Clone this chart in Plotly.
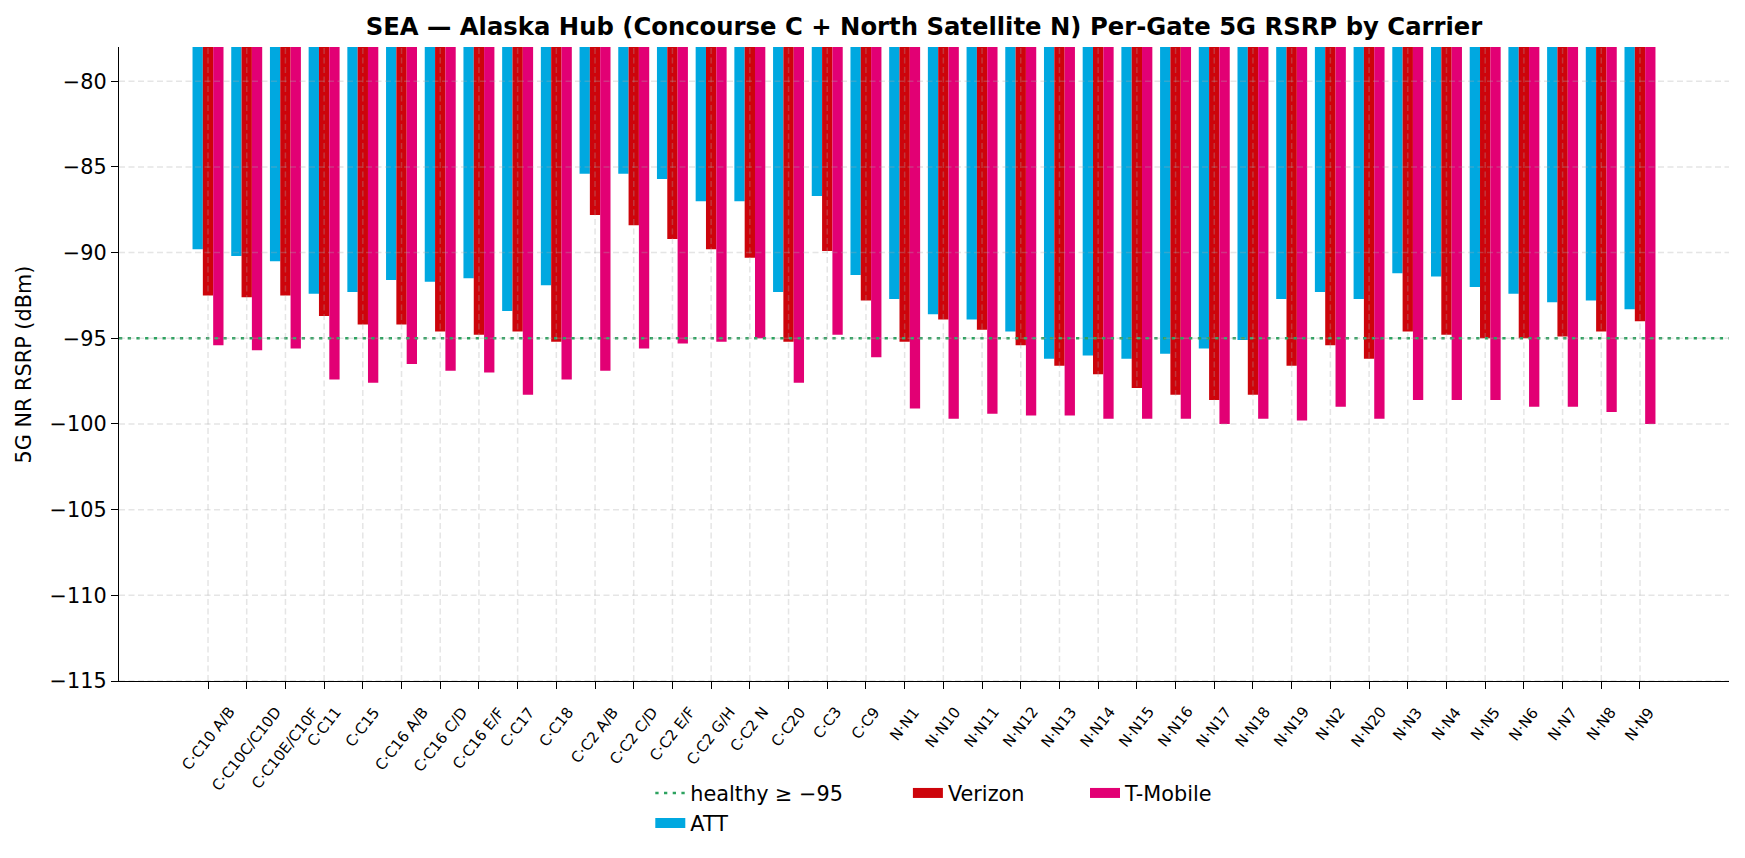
import plotly.graph_objects as go

FONT = "DejaVu Sans"

gates = ["C·C10 A/B", "C·C10C/C10D", "C·C10E/C10F", "C·C11", "C·C15", "C·C16 A/B",
         "C·C16 C/D", "C·C16 E/F", "C·C17", "C·C18", "C·C2 A/B", "C·C2 C/D",
         "C·C2 E/F", "C·C2 G/H", "C·C2 N", "C·C20", "C·C3", "C·C9",
         "N·N1", "N·N10", "N·N11", "N·N12", "N·N13", "N·N14", "N·N15", "N·N16",
         "N·N17", "N·N18", "N·N19", "N·N2", "N·N20", "N·N3", "N·N4", "N·N5",
         "N·N6", "N·N7", "N·N8", "N·N9"]

att = [-89.8, -90.2, -90.5, -92.4, -92.3, -91.6, -91.7, -91.5, -93.4, -91.9,
       -85.4, -85.4, -85.7, -87.0, -87.0, -92.3, -86.7, -91.3,
       -92.7, -93.6, -93.9, -94.6, -96.2, -96.0, -96.2, -95.9, -95.6, -95.1,
       -92.7, -92.3, -92.7, -91.2, -91.4, -92.0, -92.4, -92.9, -92.8, -93.3]

verizon = [-92.5, -92.6, -92.5, -93.7, -94.2, -94.2, -94.6, -94.8, -94.6, -95.2,
           -87.8, -88.4, -89.2, -89.8, -90.3, -95.2, -89.9, -92.8,
           -95.2, -93.9, -94.5, -95.4, -96.6, -97.1, -97.9, -98.3, -98.6, -98.3,
           -96.6, -95.4, -96.2, -94.6, -94.8, -95.0, -95.0, -94.9, -94.6, -94.0]

tmobile = [-95.4, -95.7, -95.6, -97.4, -97.6, -96.5, -96.9, -97.0, -98.3, -97.4,
           -96.9, -95.6, -95.3, -95.2, -95.0, -97.6, -94.8, -96.1,
           -99.1, -99.7, -99.4, -99.5, -99.5, -99.7, -99.7, -99.7, -100.0, -99.7,
           -99.8, -99.0, -99.7, -98.6, -98.6, -98.6, -99.0, -99.0, -99.3, -100.0]

carriers = ["ATT", "Verizon", "T-Mobile"]
colors = {"ATT": "#00a8e0", "Verizon": "#cd040b", "T-Mobile": "#e20074"}
series = {"ATT": att, "Verizon": verizon, "T-Mobile": tmobile}
legends = {"ATT": "legend", "Verizon": "legend2", "T-Mobile": "legend3"}

HEALTHY = -95
Y_TICKS = list(range(-115, -79, 5))
GREEN = "#2ca25f"
DOTS = "3.3px,5.4px"

idx = list(range(len(gates)))

fig = go.Figure()

for c in carriers:
    fig.add_trace(go.Bar(x=idx, y=series[c], name=c, marker_color=colors[c],
                         marker_line_width=0, showlegend=False))

# legend entries (thick lines look like matplotlib's wide patches)
fig.add_trace(go.Scatter(x=[None], y=[None], mode="lines", name="healthy ≥ −95",
                         line=dict(color=GREEN, width=2.4, dash=DOTS),
                         legend="legend", legendgroup="a", legendrank=1))
for i, c in enumerate(carriers):
    fig.add_trace(go.Scatter(x=[None], y=[None], mode="lines", name=c,
                             line=dict(color=colors[c], width=15),
                             legend=legends[c], legendgroup=c, legendrank=2 + i))

fig.add_hline(y=HEALTHY, line=dict(color=GREEN, width=2.4, dash=DOTS), layer="above")

# grid drawn over the bars like the original
grid = dict(color="rgba(170,170,170,0.3)", width=1.5, dash="6px,3.5px")
for i in idx:
    fig.add_shape(type="line", xref="x", yref="paper", x0=i, x1=i, y0=0, y1=1,
                  line=grid, layer="above")
for t in Y_TICKS:
    fig.add_shape(type="line", xref="paper", yref="y", x0=0, x1=1, y0=t, y1=t,
                  line=grid, layer="above")

# rotated gate labels centred under each tick
for i, g in zip(idx, gates):
    fig.add_annotation(x=i, y=0, xref="x", yref="paper", text=g, showarrow=False,
                       textangle=-52, xanchor="center", yanchor="top", yshift=-20,
                       font=dict(size=15))

fig.add_annotation(x=-0.0587, y=0.5, xref="paper", yref="paper", text="5G NR RSRP (dBm)",
                   textangle=-90, showarrow=False, xanchor="center", yanchor="middle",
                   font=dict(size=20.8))

leg = dict(yanchor="top", xanchor="left", orientation="v", font=dict(size=20.8),
           bgcolor="rgba(0,0,0,0)", tracegroupgap=0)

# page body adds an 8px offset, so margins are shifted to compensate
fig.update_layout(
    width=1745, height=858,
    margin=dict(l=111, r=24, t=39, b=185),
    paper_bgcolor="white", plot_bgcolor="white",
    font=dict(family=FONT, size=20.8, color="black"),
    title=dict(text="<b>SEA — Alaska Hub (Concourse C + North Satellite N) Per-Gate 5G RSRP by Carrier</b>",
               x=0.5, xref="paper", xanchor="center", y=1 - 18.7 / 858, yref="container",
               yanchor="middle", font=dict(size=24.3)),
    barmode="group", bargap=0.2, bargroupgap=0,
    showlegend=True,
    legend=dict(leg, x=0.330, y=-0.145),
    legend2=dict(leg, x=0.490, y=-0.145),
    legend3=dict(leg, x=0.600, y=-0.145),
)

fig.update_xaxes(range=[-2.3, 39.3], tickmode="array", tickvals=idx, showticklabels=False,
                 showgrid=False, zeroline=False, automargin=False,
                 showline=True, linecolor="black", linewidth=1.4,
                 ticks="outside", ticklen=7, tickwidth=1.2, tickcolor="black")
fig.update_yaxes(range=[-115, -78], tickmode="array", tickvals=Y_TICKS, showgrid=False,
                 zeroline=False, automargin=False, showline=True, linecolor="black",
                 linewidth=1.4, ticks="outside", ticklen=7, tickwidth=1.2, tickcolor="black",
                 tickfont=dict(size=20.8))

fig.write_html("out.html")
